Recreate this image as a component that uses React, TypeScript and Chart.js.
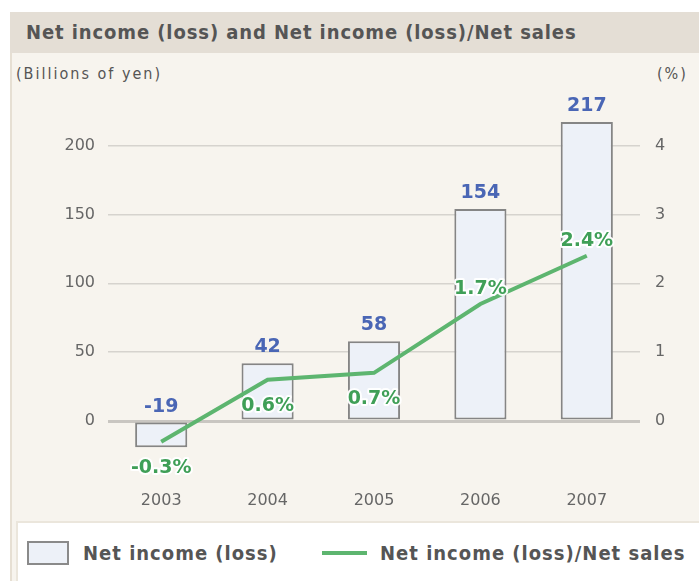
import React, { useEffect, useRef } from "react";
import { Chart, registerables } from "chart.js";

Chart.register(...registerables);

const categories = ["2003", "2004", "2005", "2006", "2007"];
const netIncome = [-19, 42, 58, 154, 217];
const netIncomeRatio = [-0.3, 0.6, 0.7, 1.7, 2.4];
const incomeLabels = ["-19", "42", "58", "154", "217"];
const ratioLabels = ["-0.3%", "0.6%", "0.7%", "1.7%", "2.4%"];
const ratioLabelSide = ["below", "below", "below", "above", "above"];
const leftTicks = [0, 50, 100, 150, 200];
const rightTicks = [0, 1, 2, 3, 4];

const TITLE = "Net income (loss) and Net income (loss)/Net sales";
const LEFT_UNIT = "(Billions of yen)";
const RIGHT_UNIT = "(%)";
const BAR_LEGEND = "Net income (loss)";
const LINE_LEGEND = "Net income (loss)/Net sales";

const labelFont = "DejaVu Sans";
const condFont = "'DejaVu Sans Condensed', 'Liberation Sans Narrow', sans-serif";

const dataLabelPlugin = {
  id: "dataLabels",
  afterDatasetsDraw(chart: any) {
    const ctx = chart.ctx;
    ctx.save();
    ctx.textAlign = "center";
    // bar labels
    const barMeta = chart.getDatasetMeta(0);
    ctx.font = `bold 19px ${labelFont}`;
    ctx.fillStyle = "#4a66b5";
    barMeta.data.forEach((el: any, i: number) => {
      const top = Math.min(el.y, el.base);
      ctx.textBaseline = "alphabetic";
      ctx.fillText(incomeLabels[i], el.x, top - 11);
    });
    // line labels
    const lineMeta = chart.getDatasetMeta(1);
    ctx.font = `bold 19px ${labelFont}`;
    ctx.lineJoin = "round";
    lineMeta.data.forEach((el: any, i: number) => {
      let y;
      if (ratioLabelSide[i] === "below") {
        ctx.textBaseline = "top";
        y = el.y + 17;
      } else {
        ctx.textBaseline = "alphabetic";
        y = el.y - 10;
      }
      ctx.strokeStyle = "rgba(255,255,255,0.95)";
      ctx.lineWidth = 4;
      ctx.strokeText(ratioLabels[i], el.x, y);
      ctx.fillStyle = "#3f9f57";
      ctx.fillText(ratioLabels[i], el.x, y);
    });
    ctx.restore();
  },
};

export default function App() {
  const canvasRef = useRef<HTMLCanvasElement | null>(null);

  useEffect(() => {
    if (!canvasRef.current) return;
    const chart = new Chart(canvasRef.current, {
      type: "bar",
      data: {
        labels: categories,
        datasets: [
          {
            type: "bar",
            label: BAR_LEGEND,
            data: netIncome,
            yAxisID: "y",
            backgroundColor: "#edf1f8",
            borderColor: "#858585",
            borderWidth: 2,
            borderSkipped: false,
            categoryPercentage: 1,
            barPercentage: 0.49,
            order: 2,
          },
          {
            type: "line",
            label: LINE_LEGEND,
            data: netIncomeRatio,
            yAxisID: "y1",
            borderColor: "#5db56f",
            borderWidth: 4,
            pointRadius: 0,
            tension: 0,
            fill: false,
            order: 1,
          },
        ],
      } as any,
      options: {
        responsive: false,
        animation: false,
        layout: { padding: { top: 23, left: 0, right: 0, bottom: 0 } },
        plugins: {
          legend: { display: false },
          tooltip: { enabled: false },
          title: { display: false },
        },
        scales: {
          x: {
            type: "category",
            offset: true,
            grid: { display: false, drawTicks: false },
            border: { display: false },
            ticks: {
              color: "#666666",
              font: { family: labelFont, size: 16 },
              padding: 1,
            },
            afterFit: (scale: any) => {
              scale.height = 27;
            },
          },
          y: {
            position: "left",
            min: -50,
            max: 250,
            afterBuildTicks: (scale: any) => {
              scale.ticks = leftTicks.map((v) => ({ value: v }));
            },
            grid: {
              drawTicks: false,
              color: (c: any) => (c.tick && c.tick.value === 0 ? "#c9c6c1" : "#d6d3ce"),
              lineWidth: (c: any) => (c.tick && c.tick.value === 0 ? 3 : 1.5),
            },
            border: { display: false },
            ticks: {
              color: "#666666",
              font: { family: labelFont, size: 16 },
              padding: 13,
            },
            afterFit: (scale: any) => {
              scale.width = 96;
            },
          },
          y1: {
            position: "right",
            min: -1,
            max: 5,
            afterBuildTicks: (scale: any) => {
              scale.ticks = rightTicks.map((v) => ({ value: v }));
            },
            grid: { display: false, drawTicks: false },
            border: { display: false },
            ticks: {
              color: "#666666",
              font: { family: labelFont, size: 16 },
              padding: 15,
            },
            afterFit: (scale: any) => {
              scale.width = 59;
            },
          },
        },
      } as any,
      plugins: [dataLabelPlugin],
    });
    return () => chart.destroy();
  }, []);

  const boldCond = {
    fontFamily: condFont,
    fontWeight: "bold" as const,
    fontSize: 20,
    color: "#555555",
    whiteSpace: "nowrap" as const,
  };

  return (
    <div
      style={{
        position: "fixed",
        left: 0,
        top: 0,
        width: 699,
        height: 581,
        background: "#ffffff",
        overflow: "hidden",
      }}
    >
      <div
        style={{
          position: "absolute",
          left: 10,
          top: 12,
          width: 2,
          height: 569,
          background: "#e6dfd3",
        }}
      />
      <div
        style={{
          position: "absolute",
          left: 10,
          top: 12,
          width: 689,
          height: 41,
          background: "#e4ded5",
        }}
      >
        <div
          style={{
            ...boldCond,
            position: "absolute",
            left: 16,
            top: 8,
            letterSpacing: "0.9px",
            lineHeight: "24px",
          }}
        >
          {TITLE}
        </div>
      </div>
      <div
        style={{
          position: "absolute",
          left: 12,
          top: 53,
          width: 687,
          height: 528,
          background: "#f7f4ee",
        }}
      />
      <div
        style={{
          position: "absolute",
          left: 16,
          top: 64,
          fontFamily: condFont,
          fontSize: 16,
          letterSpacing: "2px",
          color: "#555555",
          lineHeight: "20px",
          whiteSpace: "nowrap",
        }}
      >
        {LEFT_UNIT}
      </div>
      <div
        style={{
          position: "absolute",
          left: 657,
          top: 64,
          fontFamily: condFont,
          fontSize: 16,
          letterSpacing: "2px",
          color: "#555555",
          lineHeight: "20px",
          whiteSpace: "nowrap",
        }}
      >
        {RIGHT_UNIT}
      </div>
      <canvas
        ref={canvasRef}
        width={687}
        height={465}
        style={{ position: "absolute", left: 12, top: 52, width: 687, height: 465 }}
      />
      <div
        style={{
          position: "absolute",
          left: 16,
          top: 521,
          width: 683,
          height: 60,
          background: "#ffffff",
          borderTop: "2px solid #ebe6dc",
          borderLeft: "2px solid #ebe6dc",
          boxSizing: "border-box",
        }}
      >
        <div
          style={{
            position: "absolute",
            left: 9,
            top: 18,
            width: 42,
            height: 24,
            boxSizing: "border-box",
            border: "2px solid #8a8a8a",
            background: "#edf1f8",
          }}
        />
        <div
          style={{
            ...boldCond,
            position: "absolute",
            left: 65,
            top: 17,
            letterSpacing: "1px",
            lineHeight: "26px",
          }}
        >
          {BAR_LEGEND}
        </div>
        <div
          style={{
            position: "absolute",
            left: 304,
            top: 28,
            width: 45,
            height: 4,
            background: "#5db56f",
          }}
        />
        <div
          style={{
            ...boldCond,
            position: "absolute",
            left: 362,
            top: 17,
            letterSpacing: "1px",
            lineHeight: "26px",
          }}
        >
          {LINE_LEGEND}
        </div>
      </div>
    </div>
  );
}
